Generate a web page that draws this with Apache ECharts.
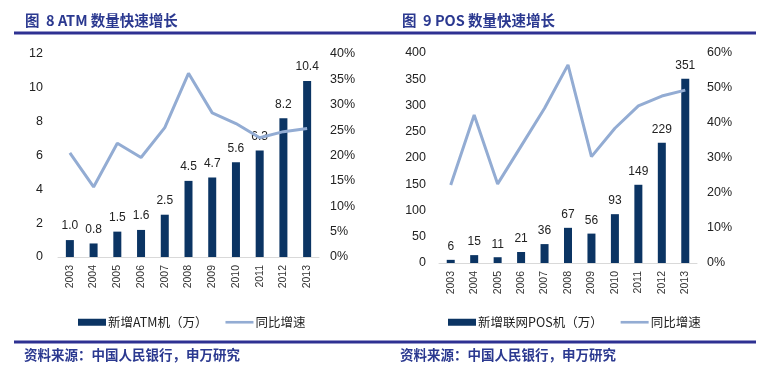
<!DOCTYPE html>
<html><head><meta charset="utf-8">
<script src="https://cdn.jsdelivr.net/npm/echarts@6/dist/echarts.min.js"></script>
<style>html,body{margin:0;padding:0;background:#fff}#c{width:766px;height:369px}</style>
</head><body><div id="c"></div>
<script>
const years = ['2003','2004','2005','2006','2007','2008','2009','2010','2011','2012','2013'];
const atmNew = [1.0,0.8,1.5,1.6,2.5,4.5,4.7,5.6,6.3,8.2,10.4];
const atmGrowth = [20.5,13.8,22.4,19.6,25.5,36.2,28.4,26.3,23.5,24.7,25.3];
const posNew = [6,15,11,21,36,67,56,93,149,229,351];
const posGrowth = [22.3,42.3,22.6,33.4,44.2,56.6,30.4,38.5,44.9,47.7,49.4];
const title1 = '图  8 ATM 数量快速增长';
const title2 = '图  9 POS 数量快速增长';
const source = '资料来源：中国人民银行，申万研究';
const nameAtmBar = '新增ATM机（万）';
const namePosBar = '新增联网POS机（万）';
const nameGrowth = '同比增速';

const NAVY = '#0b3463', LINE = '#93acd3', TITLE = '#2b3990';
const FONT = '"Liberation Sans", Arial, "Noto Sans CJK SC", sans-serif';
const CJK = '"Noto Sans CJK SC", "Liberation Sans", sans-serif';
const LINE_ICON = 'path://M0,0H32V3H0Z';

const chart = echarts.init(document.getElementById('c'), null, {renderer:'canvas'});
const xAxisBase = (gi) => ({
  type:'category', gridIndex: gi, data: years,
  axisLine:{lineStyle:{color:'#d9d9d9'}}, axisTick:{show:false},
  axisLabel:{rotate:90, fontSize:10.5, color:'#333', fontFamily:FONT, margin:8}
});
const yAxisL = (gi, max, interval, margin) => ({
  type:'value', gridIndex: gi, min:0, max:max, interval:interval,
  axisLine:{show:false}, axisTick:{show:false}, splitLine:{show:false},
  axisLabel:{fontSize:12.5, color:'#222', fontFamily:FONT, margin:margin}
});
const yAxisR = (gi, max, interval, margin) => ({
  type:'value', gridIndex: gi, min:0, max:max, interval:interval, position:'right',
  axisLine:{show:false}, axisTick:{show:false}, splitLine:{show:false},
  axisLabel:{fontSize:12.5, color:'#222', fontFamily:FONT, margin:margin, formatter: v => Math.round(v) + '%'}
});
const barLabel = (d) => ({show:true, position:'top', distance:d, fontSize:12, color:'#222', fontFamily:FONT});
const legendText = {fontSize:12.5, color:'#222', fontFamily:CJK, padding:[0,0,0,-3]};

chart.setOption({
  animation:false,
  grid:[
    {left:58, top:54, width:261, height:203},
    {left:439, top:53, width:258, height:210}
  ],
  xAxis:[xAxisBase(0), xAxisBase(1)],
  yAxis:[yAxisL(0,12,2,15), yAxisR(0,40,5,11), yAxisL(1,400,50,13), yAxisR(1,60,10,10)],
  legend:[
    {left:73, top:311, itemWidth:28, itemHeight:7, itemGap:18,
     data:[{name:nameAtmBar, icon:'rect'}, {name:nameGrowth, icon:LINE_ICON}], textStyle:legendText},
    {left:443, top:311, itemWidth:28, itemHeight:7, itemGap:18,
     data:[{name:namePosBar, icon:'rect'}, {name:nameGrowth+' ', icon:LINE_ICON}], textStyle:legendText,
     formatter: n => n.trim()}
  ],
  series:[
    {name:nameAtmBar, type:'bar', xAxisIndex:0, yAxisIndex:0, data:atmNew, barWidth:8,
     itemStyle:{color:NAVY}, label:Object.assign(barLabel(8), {formatter: p => p.value.toFixed(1)})},
    {name:nameGrowth, type:'line', xAxisIndex:0, yAxisIndex:1, data:atmGrowth, symbol:'none',
     lineStyle:{color:LINE, width:3}, itemStyle:{color:LINE}},
    {name:namePosBar, type:'bar', xAxisIndex:1, yAxisIndex:2, data:posNew, barWidth:8,
     itemStyle:{color:NAVY}, label:barLabel(7)},
    {name:nameGrowth+' ', type:'line', xAxisIndex:1, yAxisIndex:3, data:posGrowth, symbol:'none',
     lineStyle:{color:LINE, width:3}, itemStyle:{color:LINE}}
  ],
  graphic:[
    {type:'text', left:25, top:13, style:{text:title1, fontSize:14.5, fontWeight:'bold', fill:TITLE, fontFamily:CJK}},
    {type:'text', left:402, top:13, style:{text:title2, fontSize:14.5, fontWeight:'bold', fill:TITLE, fontFamily:CJK}},
    {type:'rect', shape:{x:14, y:31.5, width:742, height:3}, style:{fill:'#2e3192'}},
    {type:'rect', shape:{x:14, y:340.5, width:742, height:3}, style:{fill:'#2e3192'}},
    {type:'text', left:24, top:348, style:{text:source, fontSize:13.5, fontWeight:'bold', fill:TITLE, fontFamily:CJK}},
    {type:'text', left:400, top:348, style:{text:source, fontSize:13.5, fontWeight:'bold', fill:TITLE, fontFamily:CJK}}
  ]
});
</script></body></html>
